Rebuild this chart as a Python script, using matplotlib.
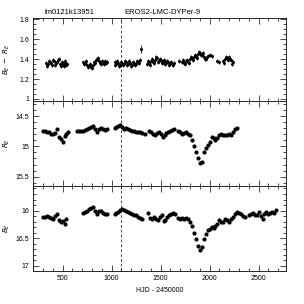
import numpy as np
import matplotlib.pyplot as plt
from matplotlib.ticker import MultipleLocator, FormatStrFormatter

plt.rcParams['font.family'] = ['Liberation Sans', 'DejaVu Sans']

star_id = "lm0121k13951"
star_name = "EROS2-LMC-DYPer-9"

# B_E - R_E colour curve
t_col = [330, 350, 370, 390, 410, 430, 450, 470, 490, 510, 530, 550,
         710, 730, 750, 770, 790, 810, 830, 850, 870, 890, 910, 930, 950,
         1030, 1050, 1070, 1090, 1110, 1130, 1150, 1170, 1190, 1210, 1230, 1250, 1270, 1290,
         1360, 1380, 1400, 1420, 1440, 1460, 1480, 1500, 1520, 1540, 1560, 1580, 1600, 1620, 1640,
         1690,
         1720, 1740, 1760, 1780, 1800, 1820, 1840, 1860, 1880, 1900, 1920, 1940, 1960, 1980,
         2000, 2020, 2080, 2100, 2140, 2160, 2180, 2200, 2220, 2240]
col = [1.36, 1.35, 1.37, 1.34, 1.38, 1.36, 1.39, 1.35, 1.37, 1.33, 1.36, 1.35,
       1.37, 1.36, 1.34, 1.33, 1.32, 1.34, 1.36, 1.40, 1.38, 1.35, 1.37, 1.38, 1.37,
       1.37, 1.35, 1.36, 1.34, 1.36, 1.35, 1.37, 1.35, 1.36, 1.34, 1.36, 1.35, 1.37, 1.39,
       1.35, 1.36, 1.38, 1.37, 1.39, 1.41, 1.38, 1.39, 1.37, 1.38, 1.36, 1.37, 1.36, 1.35, 1.36,
       1.38,
       1.37, 1.36, 1.38, 1.37, 1.40, 1.41, 1.42, 1.43, 1.45, 1.46, 1.44, 1.42, 1.40, 1.43,
       1.44, 1.43, 1.38, 1.37, 1.38, 1.40, 1.41, 1.42, 1.39, 1.37]
# second night of each pair, shifted by ten days
t_col2 = [340, 360, 380, 400, 420, 440, 460, 480, 500, 520, 540,
          720, 740, 760, 780, 800, 820, 840, 860, 880, 900, 920, 940,
          1040, 1060, 1080, 1100, 1120, 1140, 1160, 1180, 1200, 1220, 1240, 1260, 1280,
          1370, 1390, 1410, 1430, 1450, 1470, 1490, 1510, 1530, 1550, 1570, 1590, 1610, 1630,
          1730, 1750, 1770, 1790, 1810, 1830, 1850, 1870, 1890, 1910, 1930, 1950, 1970,
          2150, 2170, 2190, 2210, 2230]
col2 = [1.33, 1.38, 1.36, 1.39, 1.34, 1.37, 1.40, 1.33, 1.35, 1.38, 1.34,
        1.35, 1.38, 1.32, 1.35, 1.31, 1.37, 1.39, 1.41, 1.36, 1.38, 1.35, 1.36,
        1.34, 1.38, 1.33, 1.37, 1.34, 1.38, 1.34, 1.38, 1.33, 1.37, 1.34, 1.38, 1.36,
        1.38, 1.34, 1.40, 1.36, 1.42, 1.37, 1.40, 1.36, 1.39, 1.35, 1.38, 1.34, 1.37, 1.34,
        1.39, 1.35, 1.39, 1.36, 1.42, 1.39, 1.44, 1.41, 1.47, 1.44, 1.46, 1.40, 1.42,
        1.36, 1.42, 1.39, 1.40, 1.35]
col_err = 0.02
t_spike = [1300]
col_spike = [1.50]
spike_err = 0.04

# R_E light curve
t_r = [300, 320, 340, 360, 380, 400, 420, 440, 460, 480, 500, 520, 540, 560,
       650, 670, 690, 710, 730, 750, 770, 790, 810, 830, 850, 870, 890, 910, 930, 950,
       1030, 1050, 1070, 1090, 1110, 1130, 1150, 1170, 1190, 1210, 1230, 1250, 1270, 1290, 1310, 1340,
       1380, 1400, 1420, 1440, 1460, 1480, 1500, 1520, 1540, 1560, 1580, 1600, 1620, 1640,
       1680, 1700,
       1720, 1740, 1760, 1780, 1800, 1820, 1840, 1860, 1880, 1900, 1920, 1940, 1960, 1980,
       2000, 2020, 2040, 2060, 2080, 2100, 2120, 2140, 2160, 2180, 2200, 2220, 2240, 2260, 2280]
r_mag = [14.74, 14.75, 14.77, 14.76, 14.79, 14.80, 14.78, 14.72, 14.84, 14.88, 14.92, 14.83, 14.80, 14.77,
         14.74, 14.75, 14.75, 14.74, 14.73, 14.72, 14.70, 14.68, 14.66, 14.72, 14.77, 14.72, 14.70, 14.72, 14.73, 14.72,
         14.70, 14.68, 14.67, 14.65, 14.68, 14.71, 14.69, 14.72, 14.73, 14.74, 14.75, 14.76, 14.77, 14.77, 14.78, 14.79,
         14.74, 14.76, 14.79, 14.81, 14.78, 14.76, 14.79, 14.84, 14.82, 14.78, 14.76, 14.75, 14.73, 14.72,
         14.75, 14.76,
         14.79, 14.78, 14.77, 14.79, 14.82, 14.90, 15.00, 15.09, 15.20, 15.28, 15.26, 15.10, 15.02, 14.97,
         14.92, 14.85, 14.86, 14.90, 14.86, 14.82, 14.80, 14.81, 14.81, 14.82, 14.80, 14.81, 14.77, 14.71, 14.69]

# B_E light curve
t_b = [300, 320, 340, 360, 380, 400, 420, 440, 460, 480, 500, 520, 540,
       710, 730, 750, 770, 790, 810, 830, 850, 870, 890, 910, 930, 950,
       1030, 1050, 1070, 1090, 1110, 1130, 1150, 1170, 1190, 1210, 1230, 1250, 1270, 1290, 1310,
       1370, 1390, 1410, 1430, 1450, 1470, 1490, 1510, 1530, 1550, 1570, 1590, 1610, 1630, 1650,
       1680, 1700,
       1720, 1740, 1760, 1780, 1800, 1820, 1840, 1860, 1880, 1900, 1920, 1940, 1960, 1980,
       2000, 2020, 2040, 2060, 2080, 2100, 2120, 2140, 2160, 2180, 2200, 2220, 2240, 2260,
       2280, 2300, 2320, 2340, 2360, 2400, 2420, 2440, 2460, 2480, 2500, 2520, 2540, 2560,
       2580, 2600, 2620, 2640, 2660, 2680]
b_mag = [16.11, 16.12, 16.10, 16.11, 16.14, 16.15, 16.10, 16.06, 16.18, 16.21, 16.19, 16.24, 16.16,
         16.04, 16.03, 16.00, 15.97, 15.95, 15.94, 16.01, 16.06, 16.01, 16.00, 16.05, 16.06, 16.07,
         16.06, 16.04, 16.02, 15.99, 15.97, 15.99, 16.00, 16.03, 16.05, 16.06, 16.08, 16.09, 16.11, 16.13, 16.15,
         16.05, 16.14, 16.16, 16.12, 16.15, 16.18, 16.12, 16.09, 16.19, 16.17, 16.12, 16.08, 16.06, 16.05, 16.07,
         16.14, 16.15,
         16.14, 16.15, 16.13, 16.16, 16.21, 16.28, 16.40, 16.52, 16.64, 16.71, 16.66, 16.52, 16.42, 16.36,
         16.33, 16.30, 16.31, 16.29, 16.24, 16.18, 16.20, 16.21, 16.16, 16.18, 16.21, 16.15, 16.11, 16.07,
         16.03, 16.05, 16.06, 16.10, 16.12, 16.09, 16.07, 16.05, 16.09, 16.08, 16.03, 16.10, 16.15, 16.06,
         16.03, 16.07, 16.05, 16.02, 16.04, 15.99]

t_mark = 1100

fig = plt.figure(figsize=(3.04, 3.04), dpi=100)
ax1 = fig.add_axes([0.109, 0.668, 0.832, 0.272])
ax2 = fig.add_axes([0.109, 0.389, 0.832, 0.279])
ax3 = fig.add_axes([0.109, 0.110, 0.832, 0.279])

eb = dict(fmt='o', color='black', ms=2.2, mew=0, elinewidth=0.6, capsize=0.8, capthick=0.5)
ax1.errorbar(t_col, col, yerr=col_err, **eb)
ax1.errorbar(t_col2, col2, yerr=col_err, **eb)
ax1.errorbar(t_spike, col_spike, yerr=spike_err, **eb)
ax2.plot(t_r, r_mag, 'o', color='black', ms=3.0, mew=0)
ax3.plot(t_b, b_mag, 'o', color='black', ms=3.0, mew=0)

ax1.set_ylim(0.98, 1.81)
ax2.set_ylim(15.65, 14.25)
ax3.set_ylim(17.09, 15.55)

ax1.set_ylabel(r'$B_E\ -\ R_E$', fontsize=5)
ax2.set_ylabel(r'$R_E$', fontsize=5)
ax3.set_ylabel(r'$B_E$', fontsize=5)
ax3.set_xlabel('HJD - 2450000', fontsize=5, labelpad=4)

ax1.yaxis.set_major_locator(MultipleLocator(0.2))
ax1.yaxis.set_minor_locator(MultipleLocator(0.05))
ax1.yaxis.set_major_formatter(FormatStrFormatter('%g'))
for ax in (ax2, ax3):
    ax.yaxis.set_major_locator(MultipleLocator(0.5))
    ax.yaxis.set_minor_locator(MultipleLocator(0.1))
    ax.yaxis.set_major_formatter(FormatStrFormatter('%g'))

for ax in (ax1, ax2, ax3):
    ax.set_xlim(200, 2780)
    ax.axvline(t_mark, color='black', ls=(0, (4, 3)), lw=0.5)
    ax.xaxis.set_major_locator(MultipleLocator(500))
    ax.xaxis.set_minor_locator(MultipleLocator(100))
    ax.tick_params(which='both', direction='in', top=True, right=True,
                   labelsize=5, width=0.5, pad=3)
    ax.tick_params(which='major', length=4)
    ax.tick_params(which='minor', length=2)
    ax.yaxis.set_label_coords(-0.085, 0.5)
    for s in ax.spines.values():
        s.set_linewidth(0.6)
    if ax is not ax3:
        ax.tick_params(labelbottom=False)

fig.text(0.145, 0.955, star_id, fontsize=5.5)
fig.text(0.41, 0.955, star_name, fontsize=5.5)

fig.savefig('out.png', dpi=100)
